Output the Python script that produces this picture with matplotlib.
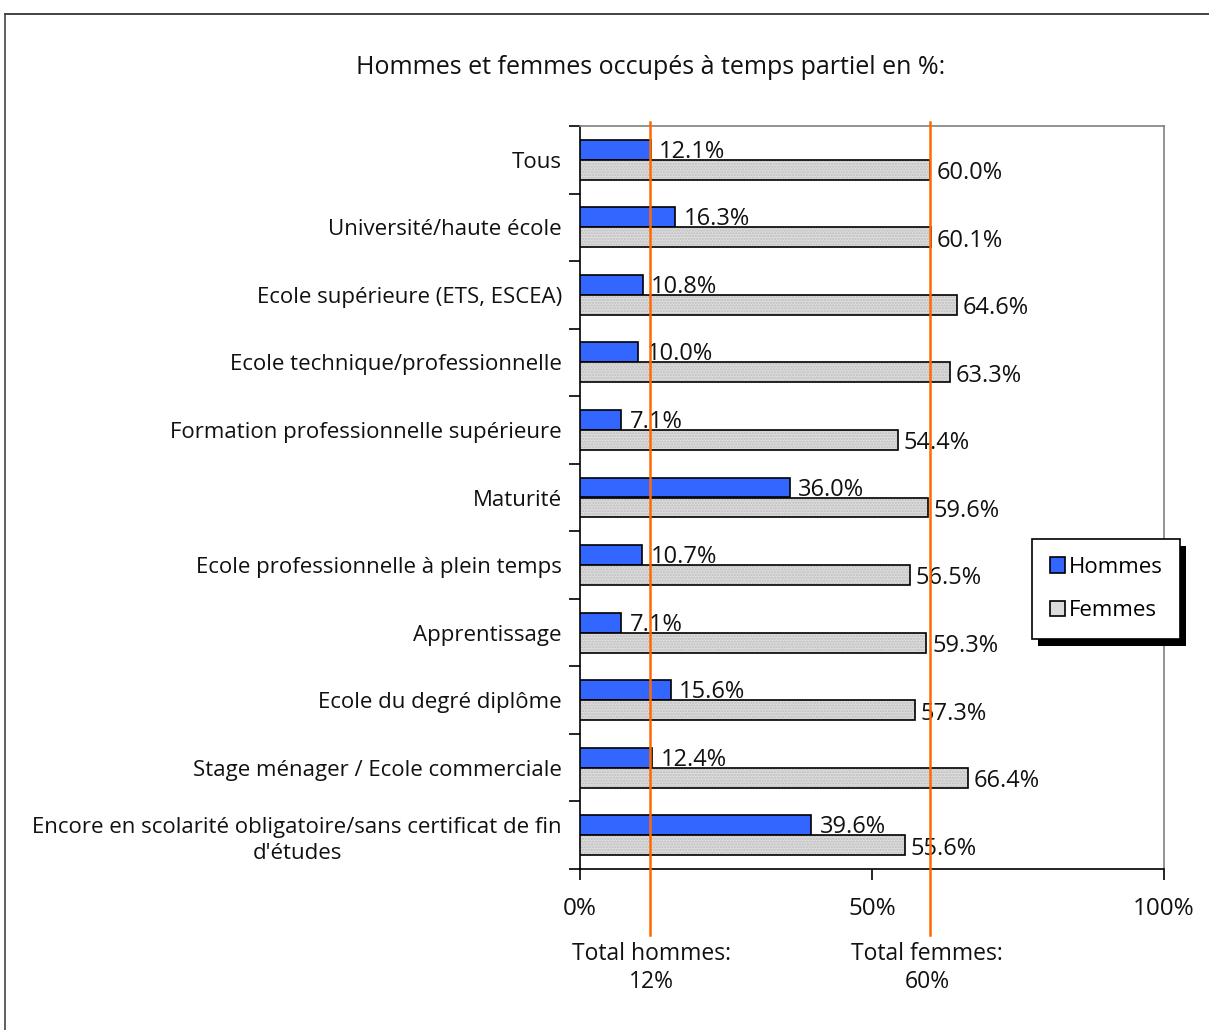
import matplotlib
matplotlib.use("Agg")
import matplotlib.pyplot as plt
from matplotlib.lines import Line2D
from matplotlib.patches import Rectangle
from matplotlib.ticker import FuncFormatter, FixedLocator
import numpy as np

categories = [
    "Tous",
    "Université/haute école",
    "Ecole supérieure (ETS, ESCEA)",
    "Ecole technique/professionnelle",
    "Formation professionnelle supérieure",
    "Maturité",
    "Ecole professionnelle à plein temps",
    "Apprentissage",
    "Ecole du degré diplôme",
    "Stage ménager / Ecole commerciale",
    "Encore en scolarité obligatoire/sans certificat de fin\nd'études",
]
hommes = [12.1, 16.3, 10.8, 10.0, 7.1, 36.0, 10.7, 7.1, 15.6, 12.4, 39.6]
femmes = [60.0, 60.1, 64.6, 63.3, 54.4, 59.6, 56.5, 59.3, 57.3, 66.4, 55.6]
total_hommes = 12
total_femmes = 60
title = "Hommes et femmes occupés à temps partiel en %:"

plt.rcParams["font.family"] = ["Open Sans", "DejaVu Sans"]
BLUE = "#3366ff"
GREY = "#dcdcdc"
ORANGE = "#ff6a00"

fig = plt.figure(figsize=(12.09, 10.30), dpi=100)
ax = fig.add_axes([580 / 1209, 1 - 869 / 1030, 584 / 1209, 743 / 1030])

y = np.arange(len(categories))
h = 0.296
ax.barh(y - h / 2, hommes, height=h, color=BLUE, edgecolor="black", lw=1.2, zorder=3)
ax.barh(y + h / 2, femmes, height=h, color=GREY, edgecolor="#bdbdbd", hatch="......",
        lw=0, zorder=3)
ax.barh(y + h / 2, femmes, height=h, fill=False, edgecolor="black", lw=1.2, zorder=3)

for i in range(len(categories)):
    ax.text(hommes[i] + 1.4, y[i] - h / 2 + 0.03, f"{hommes[i]:.1f}%", va="center", ha="left",
            fontsize=17, color="#111111", zorder=4)
    ax.text(femmes[i] + 1.0, y[i] + h / 2 + 0.05, f"{femmes[i]:.1f}%", va="center", ha="left",
            fontsize=17, color="#111111", zorder=4)

ax.set_xlim(0, 100)
ax.set_ylim(len(categories) - 0.5, -0.5)
ax.xaxis.set_major_locator(FixedLocator([0, 50, 100]))
ax.xaxis.set_major_formatter(FuncFormatter(lambda v, p: f"{v:.0f}%"))
ax.tick_params(axis="x", direction="out", length=8, width=1.2, pad=12, labelsize=17.5,
               labelcolor="#111111")

ax.set_yticks(y)
ax.set_yticklabels(categories, fontsize=16, multialignment="center", linespacing=1.3,
                   color="#111111")
ax.set_yticks(np.arange(len(categories) + 1) - 0.5, minor=True)
ax.tick_params(axis="y", which="major", length=0, pad=13)
ax.tick_params(axis="y", which="minor", direction="out", length=8, width=1.2)

for s in ["top", "right"]:
    ax.spines[s].set_color("#808080")
    ax.spines[s].set_linewidth(1.2)
for s in ["left", "bottom"]:
    ax.spines[s].set_color("black")
    ax.spines[s].set_linewidth(1.2)

# total lines
for v in [total_hommes, total_femmes]:
    ax.axvline(v, ymin=-0.089, ymax=1.006, color=ORANGE, lw=1.8, clip_on=False, zorder=6)

fig.text(651 / 1209, 1 - 968 / 1030, f"Total hommes:\n{total_hommes}%", ha="center",
         va="center", fontsize=16.5, linespacing=1.25, color="#111111")
fig.text(927 / 1209, 1 - 968 / 1030, f"Total femmes:\n{total_femmes}%", ha="center",
         va="center", fontsize=16.5, linespacing=1.25, color="#111111")

fig.text(651 / 1209, 1 - 68 / 1030, title, ha="center", va="center", fontsize=18,
         color="#111111")

# outer frame
fig.add_artist(Line2D([5 / 1209, 1], [1 - 14 / 1030, 1 - 14 / 1030], color="#222222", lw=1.2))
fig.add_artist(Line2D([5 / 1209, 5 / 1209], [0, 1 - 14 / 1030], color="#444444", lw=1.2))

# legend with black shadow
handles = [Rectangle((0, 0), 1, 1, facecolor=BLUE, edgecolor="black", lw=1.2),
           Rectangle((0, 0), 1, 1, facecolor=GREY, edgecolor="black", lw=1.2)]
leg = ax.legend(handles, ["Hommes", "Femmes"], loc="center",
                bbox_to_anchor=(1106 / 1209, 1 - 589 / 1030), bbox_transform=fig.transFigure,
                fontsize=16, handlelength=0.7, handleheight=0.7, handletextpad=0.15,
                labelspacing=1.0, borderpad=0.8, fancybox=False, framealpha=1,
                edgecolor="black")
leg.get_frame().set_linewidth(1.2)
leg.set_zorder(8)
fig.canvas.draw()
bb = leg.get_window_extent()
ax.add_patch(Rectangle((bb.x0 + 6, bb.y0 - 7), bb.width, bb.height, transform=None,
                       facecolor="black", edgecolor="none", clip_on=False, zorder=7.9))

fig.savefig("out.png", dpi=100)
